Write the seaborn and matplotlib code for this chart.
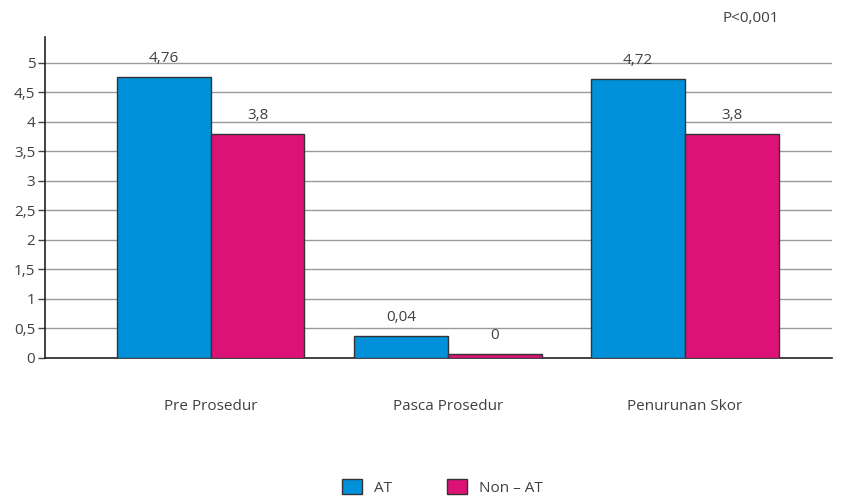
import numpy as np
import pandas as pd
import matplotlib
matplotlib.use("Agg")
import matplotlib.pyplot as plt
import seaborn as sns
from matplotlib.ticker import FuncFormatter

# data
categories = ["Pre Prosedur", "Pasca Prosedur", "Penurunan Skor"]
groups = ["AT", "Non – AT"]
at_height = [4.76, 0.37, 4.72]       # drawn bar heights
non_at_height = [3.8, 0.07, 3.8]
at_label = [4.76, 0.04, 4.72]        # printed value labels
non_at_label = [3.8, 0.0, 3.8]
colors = ["#0091DA", "#DD1277"]

df = pd.DataFrame({
    "Kategori": categories * 2,
    "Kelompok": [groups[0]] * 3 + [groups[1]] * 3,
    "Skor": at_height + non_at_height,
})
labels = at_label + non_at_label

sns.set_style("white")
plt.rcParams["font.family"] = ["Open Sans", "DejaVu Sans"]
text_col = "#404040"
fs = 11

fig = plt.figure(figsize=(8.47, 4.97), dpi=100)
ax = fig.add_axes([0.0531, 0.2797, 0.929, 0.646])

sns.barplot(data=df, x="Kategori", y="Skor", hue="Kelompok",
            palette=colors, width=0.79, edgecolor="#333333", linewidth=1,
            saturation=1, ax=ax, legend=True, zorder=3)

ax.set_xlim(-0.70, 2.62)
ax.set_ylim(0, 5.44)
ax.set_yticks(np.arange(0, 5.01, 0.5))
ax.yaxis.set_major_formatter(FuncFormatter(lambda v, p: f"{v:g}".replace(".", ",")))
ax.grid(axis="y", color="#9a9a9a", linewidth=1, zorder=0)
ax.set_axisbelow(True)
ax.set_xlabel("")
ax.set_ylabel("")

for s in ["top", "right"]:
    ax.spines[s].set_visible(False)
for s in ["left", "bottom"]:
    ax.spines[s].set_color("#222222")
    ax.spines[s].set_linewidth(1.2)

ax.tick_params(axis="y", left=True, length=5, width=1, color="#444444",
               labelsize=fs, labelcolor=text_col, pad=2)
ax.tick_params(axis="x", bottom=False, labelsize=fs, labelcolor=text_col, pad=26)

bars = [p for c in ax.containers for p in c]
for bar, lab in zip(bars, labels):
    txt = f"{lab:g}".replace(".", ",")
    ax.annotate(txt, (bar.get_x() + bar.get_width() / 2, bar.get_height()),
                xytext=(0, 8), textcoords="offset points",
                ha="center", va="bottom", fontsize=fs, color=text_col)

ax.get_legend().remove()
handles, leg_labels = ax.get_legend_handles_labels()
fig.legend(handles, leg_labels, loc="center", bbox_to_anchor=(0.522, 0.02),
           ncol=2, frameon=False, fontsize=fs, handlelength=1.3,
           handleheight=1.2, columnspacing=3.6, handletextpad=0.8,
           labelcolor=text_col)

fig.text(0.886, 0.963, "P<0,001", ha="center", va="center",
         fontsize=fs, color=text_col)

fig.savefig("out.png", dpi=100)
